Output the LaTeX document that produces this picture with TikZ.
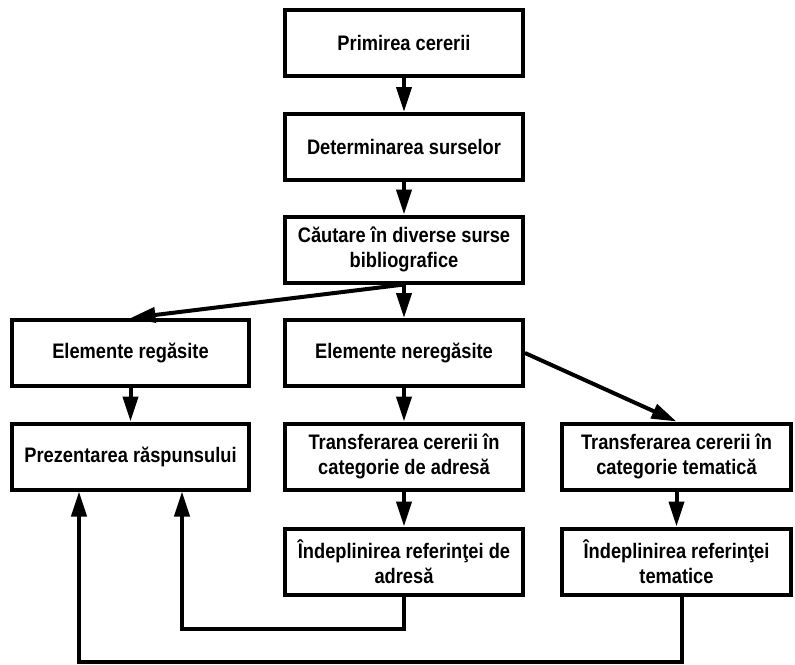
\documentclass[tikz,border=0pt]{standalone}
\usepackage{fontspec}
\setmainfont{Liberation Sans}[FakeStretch=0.87]
\usetikzlibrary{arrows.meta}
\begin{document}
\begin{tikzpicture}[x=1pt,y=-1pt,
  box/.style={draw=black,line width=4pt,fill=white,rectangle,minimum height=66pt,
    inner sep=2pt,align=center,font=\fontsize{21}{24.5}\selectfont\bfseries},
  colA/.style={box,minimum width=237pt},
  colB/.style={box,minimum width=238pt},
  colC/.style={box,minimum width=229pt},
  arr/.style={line width=4pt,-{Triangle[length=25pt,width=15pt]}},
  lnk/.style={line width=4pt}]
\useasboundingbox (0,0) rectangle (795,664);
\node[colB] (b1) at (404,43) {Primirea cererii};
\node[colB] (b2) at (404,147) {Determinarea surselor};
\node[colB] (b3) at (404,249.5) {Căutare în diverse surse\\bibliografice};
\node[colA] (b4) at (130.5,353) {Elemente regăsite};
\node[colB] (b5) at (404,353) {Elemente neregăsite};
\node[colA] (b6) at (130.5,456.5) {Prezentarea răspunsului};
\node[colB] (b7) at (404,456.5) {Transferarea cererii în\\categorie de adresă};
\node[colC] (b8) at (676.5,456.5) {Transferarea cererii în\\categorie tematică};
\node[colB] (b9) at (404,561.5) {Îndeplinirea referinţei de\\adresă};
\node[colC] (b10) at (676.5,561.5) {Îndeplinirea referinţei\\tematice};
\coordinate (c1) at (182,629);
\coordinate (c2) at (79,662);
\draw[arr] (b1.south) -- (b2.north);
\draw[arr] (b2.south) -- (b3.north);
\draw[arr] (b3.south) -- (b4.north);
\draw[arr] (b3.south) -- (b5.north);
\draw[arr] (b4.south) -- (b6.north);
\draw[arr] (b5.south) -- (b7.north);
\draw[arr] (b5.east) -- (b8.north);
\draw[arr] (b7.south) -- (b9.north);
\draw[arr] (b8.south) -- (b10.north);
\draw[arr] (b9.south) |- (c1) -- (c1 |- b6.south);
\draw[arr] ([xshift=5.5pt]b10.south) |- (c2) -- (c2 |- b6.south);
\end{tikzpicture}
\end{document}
